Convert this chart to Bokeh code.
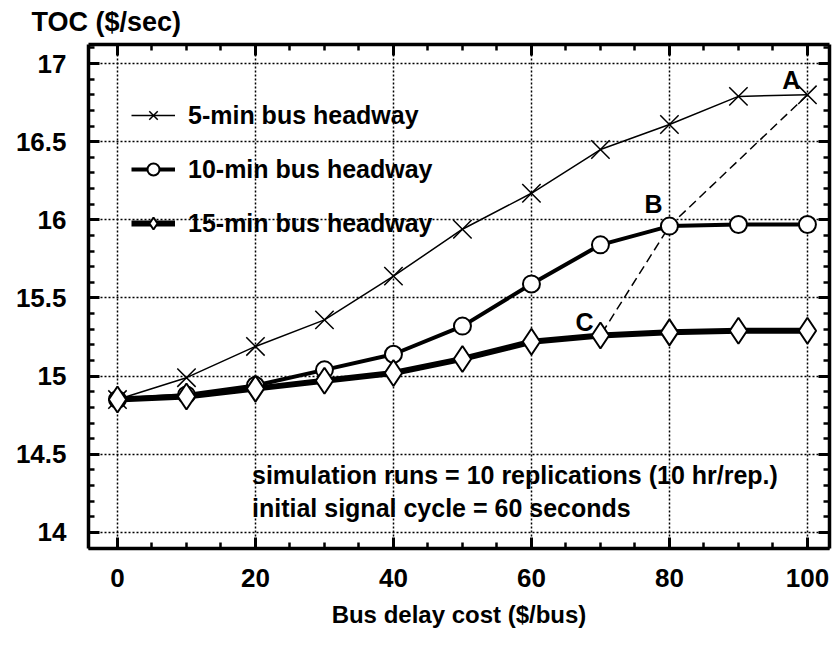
from bokeh.plotting import figure
from bokeh.models import (LinearAxis, SingleIntervalTicker, Range1d, Label, Legend,
                          LegendItem, NumeralTickFormatter, ColumnDataSource)
from bokeh.core.properties import value
from bokeh.embed import file_html
from bokeh.resources import INLINE

# ---------------- data ----------------
bus_delay_cost = [0, 10, 20, 30, 40, 50, 60, 70, 80, 90, 100]
toc_5min = [14.85, 14.99, 15.19, 15.36, 15.64, 15.94, 16.17, 16.45, 16.61, 16.79, 16.80]
toc_10min = [14.85, 14.88, 14.94, 15.04, 15.14, 15.32, 15.59, 15.84, 15.96, 15.97, 15.97]
toc_15min = [14.85, 14.87, 14.92, 14.97, 15.02, 15.11, 15.22, 15.26, 15.28, 15.29, 15.29]
series_names = ["5-min bus headway", "10-min bus headway", "15-min bus headway"]
point_labels = ["A", "B", "C"]
# optimal points: A on 5-min (cost 100), B on 10-min (cost 80), C on 15-min (cost 70)
path_x = [bus_delay_cost[10], bus_delay_cost[8], bus_delay_cost[7]]
path_y = [toc_5min[10], toc_10min[8], toc_15min[7]]
notes = ["simulation runs = 10 replications (10 hr/rep.)",
         "initial signal cycle = 60 seconds"]
x_title = "Bus delay cost ($/bus)"
y_title = "TOC ($/sec)"

# ---------------- style ----------------
FONT = "Liberation Sans"
label_dy = [-15, -22, -13]   # screen offsets of the A/B/C letters

p = figure(width=832, height=650, output_backend="svg", toolbar_location=None,
           x_range=Range1d(-4.2, 103.2), y_range=Range1d(13.897, 17.122),
           min_border_left=88, min_border_right=3, min_border_top=44, min_border_bottom=102)
p.outline_line_color = None
p.background_fill_color = "white"
p.border_fill_color = "white"

xt = SingleIntervalTicker(interval=20, num_minor_ticks=4)
yt = SingleIntervalTicker(interval=0.5, num_minor_ticks=5)

p.add_layout(LinearAxis(), "above")
p.add_layout(LinearAxis(), "right")

for ax in p.xaxis:
    ax.ticker = xt
for ax in p.yaxis:
    ax.ticker = yt
    ax.formatter = NumeralTickFormatter(format="0.[0]")

for ax in list(p.xaxis) + list(p.yaxis):
    ax.axis_line_width = 3.5
    ax.axis_line_color = "black"
    ax.major_tick_in = 11
    ax.major_tick_out = 0
    ax.major_tick_line_width = 3
    ax.major_tick_line_color = "black"
    ax.minor_tick_in = 6
    ax.minor_tick_out = 0
    ax.minor_tick_line_width = 2.5
    ax.minor_tick_line_color = "black"
    ax.major_label_text_font = FONT
    ax.major_label_text_font_style = "bold"
    ax.major_label_text_font_size = "26px"
    ax.major_label_text_color = "black"

for ax in (p.above[0], p.right[0]):
    ax.major_label_text_font_size = "1px"
    ax.major_label_text_color = None
    ax.major_label_standoff = 0

p.below[0].major_label_standoff = 20
p.below[0].axis_label = x_title
p.below[0].axis_label_text_font = FONT
p.below[0].axis_label_text_font_style = "bold"
p.below[0].axis_label_text_font_size = "24px"
p.below[0].axis_label_text_color = "black"
p.below[0].axis_label_standoff = 11
p.left[0].major_label_standoff = 22

p.xgrid.ticker = xt
p.ygrid.ticker = yt
for g in (p.xgrid[0], p.ygrid[0]):
    g.grid_line_color = "black"
    g.grid_line_width = 1.5
    g.grid_line_dash = "2 2"

# title (y-axis caption at the top left)
p.title.text = y_title
p.title.align = "left"
p.title.vertical_align = "top"
p.title.offset = -57
p.title.text_font = FONT
p.title.text_font_style = "bold"
p.title.text_font_size = "27px"
p.title.text_color = "black"
p.title.standoff = 12

# dashed optimal path
p.line(path_x, path_y, line_dash="9 5", line_width=1.5, color="black")

r5l = p.line(bus_delay_cost, toc_5min, line_width=1.5, color="black")
r5m = p.scatter(bus_delay_cost, toc_5min, marker="x", size=26, line_width=1.5, color="black")
r10l = p.line(bus_delay_cost, toc_10min, line_width=4, color="black")
r10m = p.scatter(bus_delay_cost, toc_10min, marker="circle", size=17, line_width=2,
                 line_color="black", fill_color="white")
r15l = p.line(bus_delay_cost, toc_15min, line_width=6, color="black")
r15m = p.scatter(bus_delay_cost, toc_15min, marker="diamond", size=26,
                 line_width=2, line_color="black", fill_color="white")

lab_src = ColumnDataSource(dict(x=path_x, y=path_y, text=point_labels, dy=label_dy))
p.text(x="x", y="y", text="text", source=lab_src, text_align="right", text_baseline="middle",
       x_offset=-7, y_offset="dy", text_font=value(FONT), text_font_style="bold",
       text_font_size="25px", text_color="black")

for i, note in enumerate(notes):
    p.add_layout(Label(x=19.5, y=[14.365, 14.154][i], text=note, text_baseline="middle",
                       text_font=FONT, text_font_style="bold", text_font_size="25px",
                       text_color="black"))

legend = Legend(items=[LegendItem(label=series_names[0], renderers=[r5l, r5m]),
                       LegendItem(label=series_names[1], renderers=[r10l, r10m]),
                       LegendItem(label=series_names[2], renderers=[r15l, r15m])],
                location=(43, 310), padding=0, margin=0, spacing=24,
                glyph_width=44, glyph_height=30, label_height=30, label_standoff=13,
                label_text_font=FONT, label_text_font_style="bold",
                label_text_font_size="25px", label_text_color="black",
                background_fill_alpha=0, border_line_alpha=0)
p.add_layout(legend)

open("out.html", "w").write(file_html(p, INLINE))
